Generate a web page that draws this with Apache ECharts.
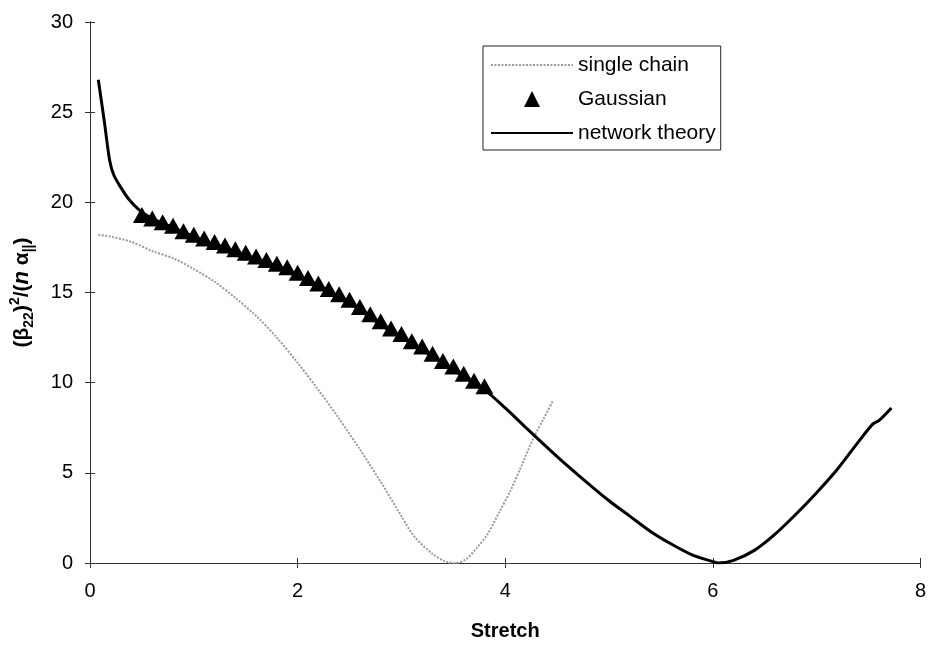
<!DOCTYPE html>
<html>
<head>
<meta charset="utf-8">
<script src="https://cdn.jsdelivr.net/npm/echarts@6/dist/echarts.min.js"></script>
<style>
html,body{margin:0;padding:0;background:#fff;}
#chart{width:929px;height:646px;}
</style>
</head>
<body>
<div id="chart"></div>
<script>
// ---- data ----
var xTicks = [0, 2, 4, 6, 8];
var yTicks = [0, 5, 10, 15, 20, 25, 30];

var singleX = [0.08, 0.2, 0.4, 0.6, 0.8, 1.0, 1.2, 1.4, 1.6, 1.8, 2.0, 2.2, 2.4, 2.6, 2.8, 3.0, 3.12, 3.3, 3.42, 3.52, 3.62, 3.72, 3.83, 3.95, 4.05, 4.15, 4.27, 4.37, 4.46];
var singleY = [18.2, 18.1, 17.8, 17.3, 16.9, 16.3, 15.6, 14.7, 13.7, 12.5, 11.1, 9.6, 8.0, 6.3, 4.5, 2.6, 1.5, 0.5, 0.1, 0.0, 0.2, 0.8, 1.6, 2.9, 4.0, 5.3, 6.9, 8.0, 9.0];

var gaussX = [0.5, 0.6, 0.7, 0.8, 0.9, 1.0, 1.1, 1.2, 1.3, 1.4, 1.5, 1.6, 1.7, 1.8, 1.9, 2.0, 2.1, 2.2, 2.3, 2.4, 2.5, 2.6, 2.7, 2.8, 2.9, 3.0, 3.1, 3.2, 3.3, 3.4, 3.5, 3.6, 3.7, 3.8];
var gaussY = [19.3, 19.1, 18.9, 18.7, 18.4, 18.2, 18.0, 17.8, 17.6, 17.4, 17.2, 17.0, 16.8, 16.6, 16.4, 16.1, 15.8, 15.5, 15.2, 14.9, 14.6, 14.2, 13.8, 13.4, 13.0, 12.7, 12.3, 12.0, 11.6, 11.2, 10.9, 10.5, 10.1, 9.8];

var netX = [0.08, 0.14, 0.19, 0.23, 0.3, 0.37, 0.47, 0.6, 0.8, 1.0, 1.2, 1.5, 1.8, 2.0, 2.2, 2.5, 2.8, 3.0, 3.2, 3.5, 3.8, 4.0, 4.2, 4.5, 4.8, 5.0, 5.2, 5.4, 5.6, 5.8, 6.0, 6.05, 6.2, 6.4, 6.6, 6.8, 7.0, 7.2, 7.4, 7.54, 7.6, 7.72];
var netY = [26.8, 24.4, 22.3, 21.5, 20.8, 20.2, 19.6, 19.1, 18.6, 18.1, 17.6, 17.0, 16.4, 15.9, 15.4, 14.4, 13.2, 12.5, 11.8, 10.7, 9.6, 8.6, 7.5, 5.9, 4.4, 3.45, 2.6, 1.75, 1.05, 0.45, 0.08, 0.0, 0.15, 0.7, 1.6, 2.7, 3.9, 5.2, 6.7, 7.7, 7.9, 8.6];

var seriesNames = ['single chain', 'Gaussian', 'network theory'];

function pairs(xs, ys) {
  return xs.map(function (x, i) { return [x, ys[i]]; });
}

var FONT = '"Liberation Sans", Arial, sans-serif';
var chart = echarts.init(document.getElementById('chart'), null, {renderer: 'canvas'});

var axisLineStyle = {color: '#333', width: 1};
// legend triangle centred in an 82x16 box (invisible move points fix the aspect)
var triIcon = 'path://M0,0 M82,16 M33,16 L41,0 L49,16 Z';

chart.setOption({
  animation: false,
  backgroundColor: '#fff',
  textStyle: {fontFamily: FONT, color: '#000'},
  grid: {left: 88, right: 8, top: 22, bottom: 81, containLabel: false},
  legend: {
    orient: 'vertical',
    left: 483,
    top: 46,
    data: [
      {name: seriesNames[0], itemStyle: {opacity: 0}},
      {name: seriesNames[1], icon: triIcon, itemStyle: {color: '#000', opacity: 1}},
      {name: seriesNames[2], itemStyle: {opacity: 0}}
    ],
    itemWidth: 82,
    itemHeight: 16,
    itemGap: 12,
    symbolKeepAspect: true,
    padding: [8, 5, 6, 7],
    borderColor: '#222',
    borderWidth: 1,
    backgroundColor: '#fff',
    textStyle: {fontFamily: FONT, fontSize: 21, lineHeight: 22, color: '#000'}
  },
  xAxis: [{
    type: 'value',
    min: xTicks[0],
    max: xTicks[xTicks.length - 1],
    interval: 2,
    name: 'Stretch',
    nameLocation: 'middle',
    nameGap: 58,
    nameTextStyle: {fontFamily: FONT, fontSize: 20, fontWeight: 'bold', color: '#000'},
    axisLine: {show: true, onZero: false, lineStyle: axisLineStyle},
    axisTick: {show: true, length: 5, lineStyle: axisLineStyle},
    axisLabel: {fontSize: 20, color: '#000', margin: 18, fontFamily: FONT},
    splitLine: {show: false}
  }, {
    type: 'value',
    position: 'bottom',
    offset: 0,
    min: xTicks[0],
    max: xTicks[xTicks.length - 1],
    interval: 2,
    axisLine: {show: true, onZero: false, lineStyle: axisLineStyle},
    axisTick: {show: true, inside: true, length: 5, lineStyle: axisLineStyle},
    axisLabel: {show: false},
    splitLine: {show: false}
  }],
  yAxis: [{
    type: 'value',
    min: yTicks[0],
    max: yTicks[yTicks.length - 1],
    interval: 5,
    name: '({s|β}{sub|22}){sup|2}/({it|n} {s|α}{sub|||})',
    nameLocation: 'middle',
    nameGap: 54,
    nameRotate: 90,
    nameTextStyle: {
      fontFamily: FONT, fontSize: 21, fontWeight: 'bold', color: '#000', lineHeight: 28,
      rich: {
        s: {fontFamily: FONT, fontSize: 21, fontWeight: 'bold', lineHeight: 28},
        it: {fontFamily: FONT, fontSize: 22, fontWeight: 'bold', fontStyle: 'italic', lineHeight: 28},
        sub: {fontFamily: FONT, fontSize: 14, fontWeight: 'bold', verticalAlign: 'bottom', lineHeight: 22},
        sup: {fontFamily: FONT, fontSize: 14, fontWeight: 'bold', verticalAlign: 'top', lineHeight: 22}
      }
    },
    axisLine: {show: true, onZero: false, lineStyle: axisLineStyle},
    axisTick: {show: true, length: 5, lineStyle: axisLineStyle},
    axisLabel: {fontSize: 20, color: '#000', margin: 17, fontFamily: FONT},
    splitLine: {show: false}
  }, {
    type: 'value',
    position: 'left',
    offset: 0,
    min: yTicks[0],
    max: yTicks[yTicks.length - 1],
    interval: 5,
    axisLine: {show: true, onZero: false, lineStyle: axisLineStyle},
    axisTick: {show: true, inside: true, length: 5, lineStyle: axisLineStyle},
    axisLabel: {show: false},
    splitLine: {show: false}
  }],
  series: [{
    name: seriesNames[0],
    type: 'line',
    xAxisIndex: 0, yAxisIndex: 0,
    data: pairs(singleX, singleY),
    symbol: 'none',
    smooth: 0.3,
    lineStyle: {color: '#9a9a9a', width: 2, type: [2, 1.5]},
    itemStyle: {color: '#9a9a9a'},
    z: 2
  }, {
    name: seriesNames[2],
    type: 'line',
    xAxisIndex: 0, yAxisIndex: 0,
    data: pairs(netX, netY),
    symbol: 'none',
    smooth: 0.3,
    lineStyle: {color: '#000', width: 3},
    itemStyle: {color: '#000'},
    z: 3
  }, {
    name: seriesNames[1],
    type: 'scatter',
    xAxisIndex: 0, yAxisIndex: 0,
    data: pairs(gaussX, gaussY),
    symbol: 'triangle',
    symbolSize: [18, 16],
    itemStyle: {color: '#000', opacity: 1},
    z: 4
  }]
});
</script>
</body>
</html>
